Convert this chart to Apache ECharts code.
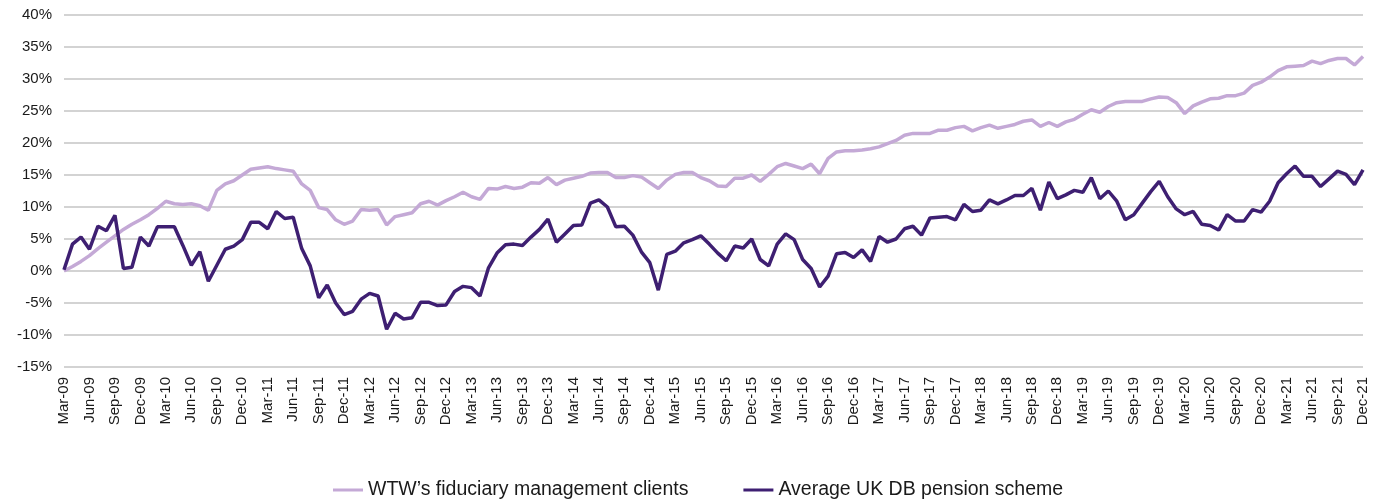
<!DOCTYPE html>
<html>
<head>
<meta charset="utf-8">
<script src="https://cdn.jsdelivr.net/npm/echarts@6.0.0/dist/echarts.min.js"></script>
<style>
  html, body { margin: 0; padding: 0; background: #ffffff; }
  #chart { width: 1381px; height: 504px; }
</style>
</head>
<body>
<div id="chart"></div>
<script>
// month names + year span for the category axis (Mar-09 .. Dec-21)
const monthNames = ["Jan", "Feb", "Mar", "Apr", "May", "Jun", "Jul", "Aug", "Sep", "Oct", "Nov", "Dec"];
const startYear = 2009, startMonth = 2, endYear = 2021, endMonth = 11;

const seriesNames = ["WTW\u2019s fiduciary management clients", "Average UK DB pension scheme"];

// cumulative return, %
const wtwClients = [
  0, 0.7, 1.5, 2.4, 3.5, 4.5, 5.5, 6.5, 7.3, 8.0,
  8.8, 9.8, 10.9, 10.5, 10.4, 10.5, 10.2, 9.5, 12.6, 13.6,
  14.1, 15.0, 15.9, 16.1, 16.3, 16.0, 15.8, 15.6, 13.6, 12.6,
  9.9, 9.6, 8.0, 7.3, 7.8, 9.6, 9.5, 9.6, 7.2, 8.5,
  8.8, 9.1, 10.5, 10.9, 10.3, 11.0, 11.6, 12.3, 11.6, 11.2,
  12.9, 12.8, 13.2, 12.9, 13.1, 13.8, 13.7, 14.6, 13.5, 14.2,
  14.5, 14.8, 15.3, 15.4, 15.4, 14.6, 14.6, 14.9, 14.7, 13.8,
  12.9, 14.2, 15.1, 15.4, 15.4, 14.6, 14.1, 13.3, 13.2, 14.5,
  14.5, 15.0, 14.0, 15.1, 16.3, 16.8, 16.4, 16.0, 16.7, 15.2,
  17.6, 18.6, 18.8, 18.8, 18.9, 19.1, 19.4, 19.9, 20.4, 21.2,
  21.5, 21.5, 21.5, 22.0, 22.0, 22.4, 22.6, 21.9, 22.4, 22.8,
  22.3, 22.6, 22.9, 23.4, 23.6, 22.6, 23.2, 22.6, 23.3, 23.7,
  24.5, 25.2, 24.8, 25.7, 26.3, 26.5, 26.5, 26.5, 26.9, 27.2,
  27.1, 26.3, 24.6, 25.8, 26.4, 26.9, 27.0, 27.4, 27.4, 27.8,
  29.0, 29.5, 30.3, 31.3, 31.9, 32.0, 32.1, 32.8, 32.4, 32.9,
  33.2, 33.2, 32.2, 33.5
];

const ukDbScheme = [
  0.2, 4.2, 5.3, 3.4, 7.0, 6.3, 8.7, 0.4, 0.6, 5.3,
  3.9, 6.9, 6.9, 6.9, 4.0, 0.9, 3.0, -1.6, 0.9, 3.4,
  3.9, 4.9, 7.6, 7.6, 6.6, 9.3, 8.2, 8.4, 3.5, 0.8,
  -4.2, -2.2, -5.0, -6.8, -6.3, -4.4, -3.5, -3.9, -9.1, -6.6,
  -7.5, -7.3, -4.9, -4.9, -5.4, -5.3, -3.2, -2.4, -2.6, -3.9,
  0.5, 2.8, 4.1, 4.2, 4.0, 5.3, 6.5, 8.1, 4.5, 5.8,
  7.1, 7.2, 10.6, 11.1, 10.0, 6.9, 7.0, 5.6, 3.0, 1.3,
  -3.0, 2.6, 3.1, 4.4, 4.9, 5.5, 4.2, 2.8, 1.6, 3.9,
  3.6, 5.0, 1.8, 0.8, 4.2, 5.8, 4.9, 1.8, 0.4, -2.5,
  -0.8, 2.7, 2.9, 2.1, 3.3, 1.5, 5.4, 4.5, 5.0, 6.6,
  7.0, 5.6, 8.3, 8.4, 8.5, 8.0, 10.4, 9.3, 9.5, 11.1,
  10.5, 11.1, 11.8, 11.8, 12.9, 9.5, 13.9, 11.3, 11.9, 12.6,
  12.3, 14.6, 11.3, 12.5, 10.9, 8.0, 8.8, 10.6, 12.4, 14.0,
  11.6, 9.7, 8.8, 9.3, 7.3, 7.1, 6.4, 8.8, 7.8, 7.8,
  9.6, 9.2, 10.9, 13.8, 15.2, 16.4, 14.8, 14.8, 13.2, 14.4,
  15.6, 15.1, 13.5, 15.8
];

const categories = [];
for (let y = startYear; y <= endYear; y++) {
  const m0 = y === startYear ? startMonth : 0;
  const m1 = y === endYear ? endMonth : 11;
  for (let m = m0; m <= m1; m++) {
    categories.push(monthNames[m] + "-" + String(y % 100).padStart(2, "0"));
  }
}

const chart = echarts.init(document.getElementById("chart"));
const font = "'Liberation Sans', Arial, Helvetica, sans-serif";

chart.setOption({
  backgroundColor: "#ffffff",
  animation: false,
  grid: { left: 64, right: 18, top: 15, bottom: 137 },
  legend: {
    top: 480,
    left: 333,
    padding: 0,
    itemWidth: 30,
    itemHeight: 3,
    itemGap: 55,
    icon: "rect",
    textStyle: { fontFamily: font, fontSize: 19.5, color: "#1a1a1a" },
    data: seriesNames
  },
  xAxis: {
    type: "category",
    data: categories,
    boundaryGap: false,
    axisLine: { show: false },
    axisTick: { show: false },
    axisLabel: {
      interval: 2,
      rotate: 90,
      margin: 10,
      fontFamily: font,
      fontSize: 15,
      color: "#1a1a1a"
    },
    splitLine: { show: false }
  },
  yAxis: {
    type: "value",
    min: -15,
    max: 40,
    interval: 5,
    axisLine: { show: false },
    axisTick: { show: false },
    axisLabel: {
      formatter: "{value}%",
      margin: 12,
      fontFamily: font,
      fontSize: 15,
      color: "#1a1a1a"
    },
    splitLine: { lineStyle: { color: "#d3d3d3", width: 2 } }
  },
  series: [
    {
      name: seriesNames[0],
      type: "line",
      data: wtwClients,
      symbol: "none",
      itemStyle: { color: "#c4a9d6" },
      lineStyle: { color: "#c4a9d6", width: 3.5 }
    },
    {
      name: seriesNames[1],
      type: "line",
      data: ukDbScheme,
      symbol: "none",
      itemStyle: { color: "#3e1f72" },
      lineStyle: { color: "#3e1f72", width: 3.5 }
    }
  ]
});

window.addEventListener("resize", () => chart.resize());
</script>
</body>
</html>
